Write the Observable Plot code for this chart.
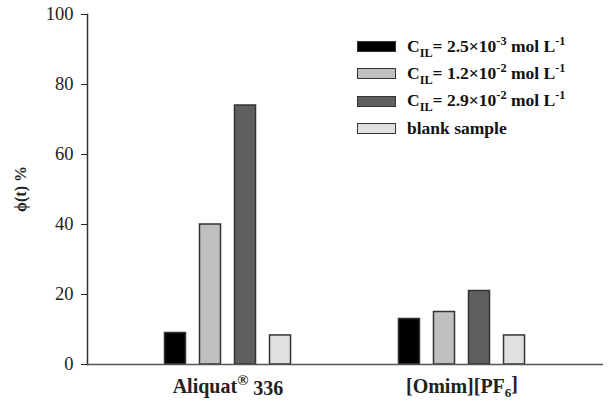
<!DOCTYPE html>
<html><head><meta charset="utf-8">
<script src="https://cdn.jsdelivr.net/npm/d3@7"></script>
<script src="https://cdn.jsdelivr.net/npm/@observablehq/plot@0.6"></script>
<style>
body{margin:0;background:#fff;}
#wrap{position:relative;width:610px;height:401px;font-family:"Liberation Serif",serif;}
.legend{position:absolute;left:357px;top:33px;font-weight:bold;font-size:17.5px;color:#111;line-height:1}
.legend .row{display:flex;align-items:center;height:27.3px;white-space:nowrap}
.legend .sw{width:37px;height:9px;border:1.5px solid #333;margin-right:11px;flex:none}
.legend sub,.legend sup{font-size:0.7em;line-height:0}
svg [aria-label="x-axis tick label"]{font-weight:bold;font-size:20px}
</style></head><body><div id="wrap"></div>
<script>
const groups = ["Aliquat® 336", "[Omim][PF6]"];
const groupLabelParts = [
  [["Aliquat",""],["®","sup"],[" 336",""]],
  [["[Omim][PF",""],["6","sub"],["]",""]]
];
const series = ["c1", "c2", "c3", "blank"];
const seriesLabels = [
  'C<sub>IL</sub>= 2.5×10<sup>-3</sup> mol L<sup>-1</sup>',
  'C<sub>IL</sub>= 1.2×10<sup>-2</sup> mol L<sup>-1</sup>',
  'C<sub>IL</sub>= 2.9×10<sup>-2</sup> mol L<sup>-1</sup>',
  'blank sample'
];
const aliquatValues = [9, 40, 74, 8.3];
const omimValues = [13, 15, 21, 8.3];
const colors = ["#000000", "#bfbfbf", "#5f5f5f", "#e0e0e0"];
const yTicks = [0, 20, 40, 60, 80, 100];
const yLabel = "ϕ(t) %";

const W = 610, H = 401, ML = 87, MR = 7, MT = 14, MB = 37;
const data = [];
[aliquatValues, omimValues].forEach((vals, gi) =>
  vals.forEach((v, si) => data.push({group: groups[gi], series: series[si], value: v})));

// band layout: groups on the x scale, series placed inside each group band through insets
const groupBand = d3.scaleBand(groups, [ML, W - MR]).paddingInner(0.404).paddingOuter(0.3);
const bw = groupBand.bandwidth();
const sub = d3.scaleBand(series, [0, bw]).paddingInner(0.37).paddingOuter(0.185);

const plot = Plot.plot({
  width: W, height: H,
  marginLeft: ML, marginRight: MR, marginTop: MT, marginBottom: MB,
  style: {fontFamily: "Liberation Serif", fontSize: "18.5px", color: "#222", background: "#fff"},
  x: {domain: groups, paddingInner: 0.404, paddingOuter: 0.3, label: null, tickSize: 0, tickPadding: 14},
  y: {domain: [0, 100], ticks: yTicks, tickSize: 6, tickPadding: 8, label: null},
  color: {domain: series, range: colors},
  marks: [
    ...series.map(s => Plot.barY(data.filter(d => d.series === s), {
      x: "group", y: "value", fill: "series", stroke: "#333", strokeWidth: 1.5,
      insetLeft: sub(s), insetRight: bw - sub(s) - sub.bandwidth()
    })),
    Plot.frame({anchor: "left", stroke: "#333", strokeWidth: 1.5}),
    Plot.ruleY([0], {stroke: "#555", strokeWidth: 1.5})
  ]
});
document.getElementById("wrap").appendChild(plot);

// y-axis title
const yScale = plot.scale("y");
d3.select(plot).append("text")
  .attr("transform", `translate(20,${(yScale.apply(0) + yScale.apply(100)) / 2}) rotate(-90)`)
  .attr("text-anchor", "middle").attr("dy", "0.35em")
  .attr("font-weight", "bold").attr("font-size", 16).attr("fill", "#222")
  .text(yLabel);

// rich x tick labels
d3.select(plot).selectAll('[aria-label="x-axis tick label"] text').each(function() {
  const t = d3.select(this);
  const gi = groups.indexOf(t.text());
  if (gi < 0) return;
  t.text("");
  let shift = 0;
  groupLabelParts[gi].forEach(([s, kind]) => {
    const target = kind === "sup" ? -0.5 : kind === "sub" ? 0.3 : 0;
    const ts = t.append("tspan").text(s).attr("dy", (target - shift) + "em");
    if (kind) ts.attr("font-size", kind === "sup" ? "0.75em" : "0.65em");
    shift = target;
  });
});

// legend
const leg = d3.select("#wrap").append("div").attr("class", "legend");
series.forEach((s, i) => {
  const row = leg.append("div").attr("class", "row");
  row.append("div").attr("class", "sw").style("background", colors[i]);
  row.append("span").html(seriesLabels[i]);
});
</script>
</body></html>
